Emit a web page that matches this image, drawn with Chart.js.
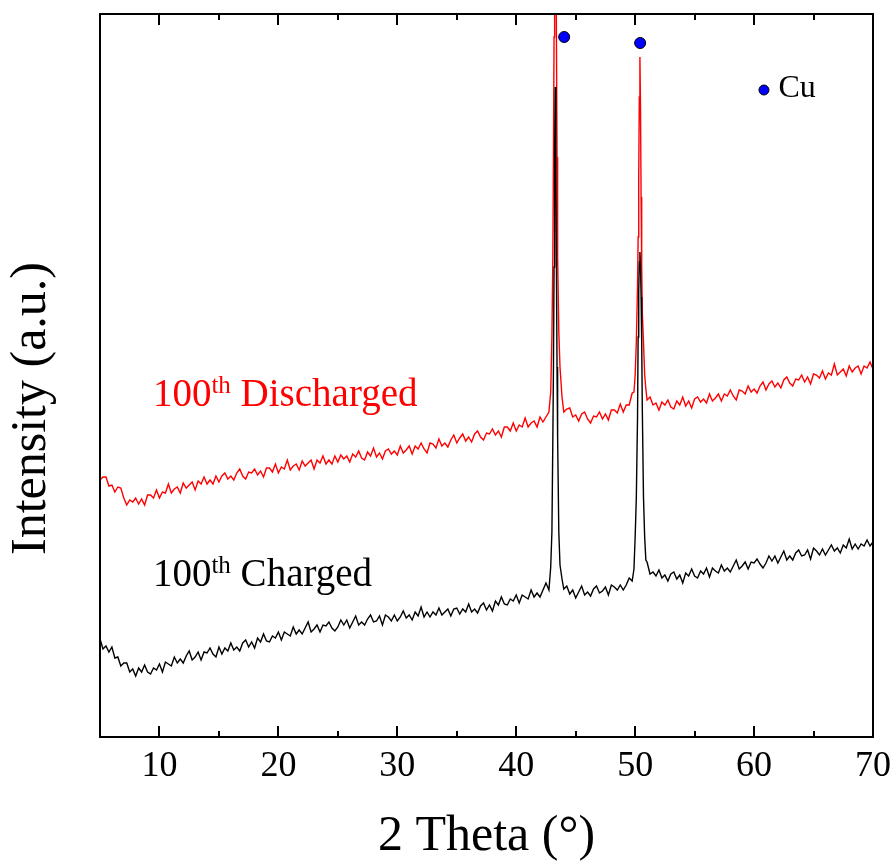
<!DOCTYPE html>
<html><head><meta charset="utf-8">
<script src="https://cdn.jsdelivr.net/npm/chart.js@4"></script>
<style>html,body{margin:0;padding:0;background:#fff;}#wrap{width:896px;height:867px;}</style>
</head><body><div id="wrap"><canvas id="c" width="896" height="867"></canvas></div>
<script>
// 2θ (degrees)
const twoTheta = [
5,5.25,5.5,5.75, 6,6.25,6.5,6.75, 7,7.25,7.5,7.75, 8,8.25,8.5,8.75, 9,9.25,9.5,9.75,
10,10.25,10.5,10.75, 11,11.25,11.5,11.75, 12,12.25,12.5,12.75, 13,13.25,13.5,13.75, 14,14.25,14.5,14.75,
15,15.25,15.5,15.75, 16,16.25,16.5,16.75, 17,17.25,17.5,17.75, 18,18.25,18.5,18.75, 19,19.25,19.5,19.75,
20,20.25,20.5,20.75, 21,21.25,21.5,21.75, 22,22.25,22.5,22.75, 23,23.25,23.5,23.75, 24,24.25,24.5,24.75,
25,25.25,25.5,25.75, 26,26.25,26.5,26.75, 27,27.25,27.5,27.75, 28,28.25,28.5,28.75, 29,29.25,29.5,29.75,
30,30.25,30.5,30.75, 31,31.25,31.5,31.75, 32,32.25,32.5,32.75, 33,33.25,33.5,33.75, 34,34.25,34.5,34.75,
35,35.25,35.5,35.75, 36,36.25,36.5,36.75, 37,37.25,37.5,37.75, 38,38.25,38.5,38.75, 39,39.25,39.5,39.75,
40,40.25,40.5,40.75, 41,41.25,41.5,41.75, 42,42.25,42.5,42.75,
42.9,43.0,43.08,43.13,43.18,43.23,43.28,43.33,43.38,43.43,43.48,43.58,43.68,43.85,
44,44.25,44.5,44.75, 45,45.25,45.5,45.75, 46,46.25,46.5,46.75, 47,47.25,47.5,47.75, 48,48.25,48.5,48.75, 49,49.25,49.5,49.75,
49.9,50.0,50.1,50.2,50.25,50.3,50.35,50.4,50.45,50.5,50.55,50.6,50.7,50.8,50.9,
51,51.25,51.5,51.75, 52,52.25,52.5,52.75, 53,53.25,53.5,53.75, 54,54.25,54.5,54.75, 55,55.25,55.5,55.75,
56,56.25,56.5,56.75, 57,57.25,57.5,57.75, 58,58.25,58.5,58.75, 59,59.25,59.5,59.75, 60,60.25,60.5,60.75,
61,61.25,61.5,61.75, 62,62.25,62.5,62.75, 63,63.25,63.5,63.75, 64,64.25,64.5,64.75, 65,65.25,65.5,65.75,
66,66.25,66.5,66.75, 67,67.25,67.5,67.75, 68,68.25,68.5,68.75, 69,69.25,69.5,69.75, 70
];
// 100th Charged (arbitrary units)
const charged = [
98,88,91,85, 90,79,80,71, 74,74,65,68, 61,69,65,72, 65,63,69,67,
73,65,75,73, 71,80,74,78, 74,81,86,77, 80,85,77,85, 84,89,83,80,
90,83,89,86, 94,87,90,86, 94,97,90,95, 89,99,95,103, 96,95,101,99,
105,97,105,103, 101,110,103,107, 103,109,115,105, 108,112,105,112, 111,115,109,106,
110,117,112,117, 109,115,121,112, 115,112,118,122, 115,116,121,112, 122,120,116,122,
116,120,126,119, 122,117,125,121, 130,120,125,120, 125,122,129,122, 125,128,121,128,
129,123,128,125, 133,125,128,124, 131,134,127,132, 126,136,132,140, 133,132,138,136,
142,134,142,140, 138,147,140,144, 140,147,154,147,
170,205,300,370,470,590,650,590,470,370,300,205,172,158,
148,151,143,147, 139,145,151,142, 145,141,148,151, 144,146,150,142, 152,150,147,152, 147,152,159,156,
168,200,240,320,400,445,475,485,470,440,395,330,240,200,177,
175,163,165,161, 167,159,162,156, 163,165,158,162, 154,164,161,168, 161,159,166,163,
169,160,169,166, 164,172,166,169, 165,171,177,168, 171,175,168,175, 174,178,173,169,
174,181,176,181, 174,180,186,177, 181,177,184,187, 181,182,187,178, 189,186,182,188,
182,187,192,186, 189,184,192,189, 198,188,193,188, 193,191,197,191, 195
];
// 100th Discharged (arbitrary units)
const discharged = [
257,260,260,251, 252,245,250,249, 239,232,237,235, 239,233,238,232, 242,242,239,247,
239,245,244,253, 244,248,250,244, 254,249,252,255, 247,256,253,260, 253,257,253,261,
255,261,264,258, 261,257,264,268, 261,258,265,264, 268,262,266,260, 269,269,265,273,
264,270,268,277, 267,271,273,267, 276,271,274,277, 268,277,274,281, 273,277,273,281,
275,282,278,281, 275,283,280,286, 279,277,285,281, 289,280,284,278, 286,288,283,286,
282,291,284,287, 291,283,291,288, 294,288,284,294, 293,289,298,291, 294,290,297,302,
294,299,303,296, 300,295,303,306, 300,297,304,303, 308,302,306,300, 310,310,306,314,
306,312,310,319, 310,314,316,310, 320,315,320,325,
345,400,480,580,700,820,900,820,700,580,480,405,370,340,
325,328,329,320, 322,316,323,325, 318,314,321,320, 325,318,323,317, 327,327,324,333, 325,332,332,344,
345,362,395,450,500,560,640,680,630,540,470,425,395,362,348,
337,340,332,334, 327,335,332,337, 330,328,336,332, 340,331,336,329, 338,340,335,338,
334,343,336,339, 343,336,343,341, 347,341,337,347, 346,343,351,345, 348,344,351,355,
347,353,356,350, 354,349,357,360, 354,351,358,357, 362,355,360,353, 363,362,359,366,
358,364,362,373, 362,365,368,361, 371,365,369,371, 363,371,369,375, 368
];
// Cu reflection markers
const cuMarkTheta = [44.03, 50.42];
const cuMarkLevel = [700, 694];
const cuKeyTheta = [60.83];
const cuKeyLevel = [647];
const xTickLabels = [10, 20, 30, 40, 50, 60, 70];

const SERIF = "'Liberation Serif','Times New Roman',serif";

function supLabel(ctx, x, y, main, sup, rest, color, size, supSize, rise) {
  ctx.fillStyle = color;
  ctx.textBaseline = 'alphabetic';
  ctx.textAlign = 'left';
  ctx.font = size + 'px ' + SERIF;
  ctx.fillText(main, x, y);
  x += ctx.measureText(main).width;
  ctx.font = supSize + 'px ' + SERIF;
  ctx.fillText(sup, x, y - rise);
  x += ctx.measureText(sup).width;
  ctx.font = size + 'px ' + SERIF;
  ctx.fillText(rest, x, y);
}

const decor = {
  id: 'decor',
  afterDraw(chart) {
    const {ctx, chartArea: a, scales: {x, y}} = chart;
    ctx.save();
    ctx.strokeStyle = '#000';
    ctx.lineWidth = 2;
    ctx.strokeRect(a.left, a.top, a.right - a.left, a.bottom - a.top);
    ctx.beginPath();
    x.ticks.forEach(t => {
      if (t.value <= x.min || t.value >= x.max) return;
      const px = Math.round(x.getPixelForValue(t.value));
      const len = (t.value % 10 === 0) ? 11 : 6;
      ctx.moveTo(px, a.bottom); ctx.lineTo(px, a.bottom - len);
      ctx.moveTo(px, a.top); ctx.lineTo(px, a.top + len);
    });
    ctx.stroke();
    // in-plot labels
    supLabel(ctx, x.getPixelForValue(9.45), y.getPixelForValue(331), '100', 'th', ' Discharged', '#ff0000', 39, 25, 13);
    supLabel(ctx, x.getPixelForValue(9.45), y.getPixelForValue(151), '100', 'th', ' Charged', '#000000', 39, 25, 13);
    ctx.fillStyle = '#000';
    ctx.font = '32px ' + SERIF;
    ctx.textBaseline = 'alphabetic';
    ctx.textAlign = 'left';
    ctx.fillText('Cu', x.getPixelForValue(62.05), y.getPixelForValue(640));
    // y axis title
    ctx.save();
    ctx.translate(32, (a.top + a.bottom) / 2 + 33);
    ctx.rotate(-Math.PI / 2);
    ctx.font = '50px ' + SERIF;
    ctx.textAlign = 'center';
    ctx.textBaseline = 'middle';
    ctx.fillStyle = '#000';
    ctx.fillText('Intensity (a.u.)', 0, 0);
    ctx.restore();
    ctx.restore();
  }
};

const pts = (xs, ys) => xs.map((v, i) => ({x: v, y: ys[i]}));

new Chart(document.getElementById('c'), {
  type: 'scatter',
  data: {
    datasets: [
      {label: 'Cu', data: pts(cuMarkTheta, cuMarkLevel), showLine: false, pointRadius: 5.5,
       pointBackgroundColor: '#0000ff', pointBorderColor: '#000', pointBorderWidth: 1},
      {label: 'Cu key', data: pts(cuKeyTheta, cuKeyLevel), showLine: false, pointRadius: 5,
       pointBackgroundColor: '#0000ff', pointBorderColor: '#000', pointBorderWidth: 1},
      {label: '100th Charged', data: pts(twoTheta, charged), showLine: true, borderColor: '#000',
       borderWidth: 1.4, pointRadius: 0, tension: 0},
      {label: '100th Discharged', data: pts(twoTheta, discharged), showLine: true, borderColor: '#ff0000',
       borderWidth: 1.4, pointRadius: 0, tension: 0}
    ]
  },
  options: {
    responsive: false, animation: false, devicePixelRatio: 1,
    layout: {padding: {left: 0, right: 23, top: 14, bottom: 0}},
    plugins: {legend: {display: false}, tooltip: {enabled: false}},
    scales: {
      x: {
        type: 'linear', min: 5, max: 70,
        afterFit(s) { s.height = 130; s.paddingLeft = 0; s.paddingRight = 0; },
        grid: {display: false, drawTicks: false}, border: {display: false},
        ticks: {stepSize: 5, autoSkip: false, maxRotation: 0, padding: 8, color: '#000',
          font: {family: SERIF, size: 36},
          callback: v => xTickLabels.includes(v) ? String(v) : ''},
        title: {display: true, text: '2 Theta (°)', color: '#000', font: {family: SERIF, size: 50},
          padding: {top: 0, bottom: 0}}
      },
      y: {
        type: 'linear', min: 0, max: 723,
        afterFit(s) { s.width = 100; s.paddingTop = 0; s.paddingBottom = 0; },
        grid: {display: false, drawTicks: false}, border: {display: false},
        ticks: {display: false}
      }
    }
  },
  plugins: [decor]
});
</script>
</body></html>
